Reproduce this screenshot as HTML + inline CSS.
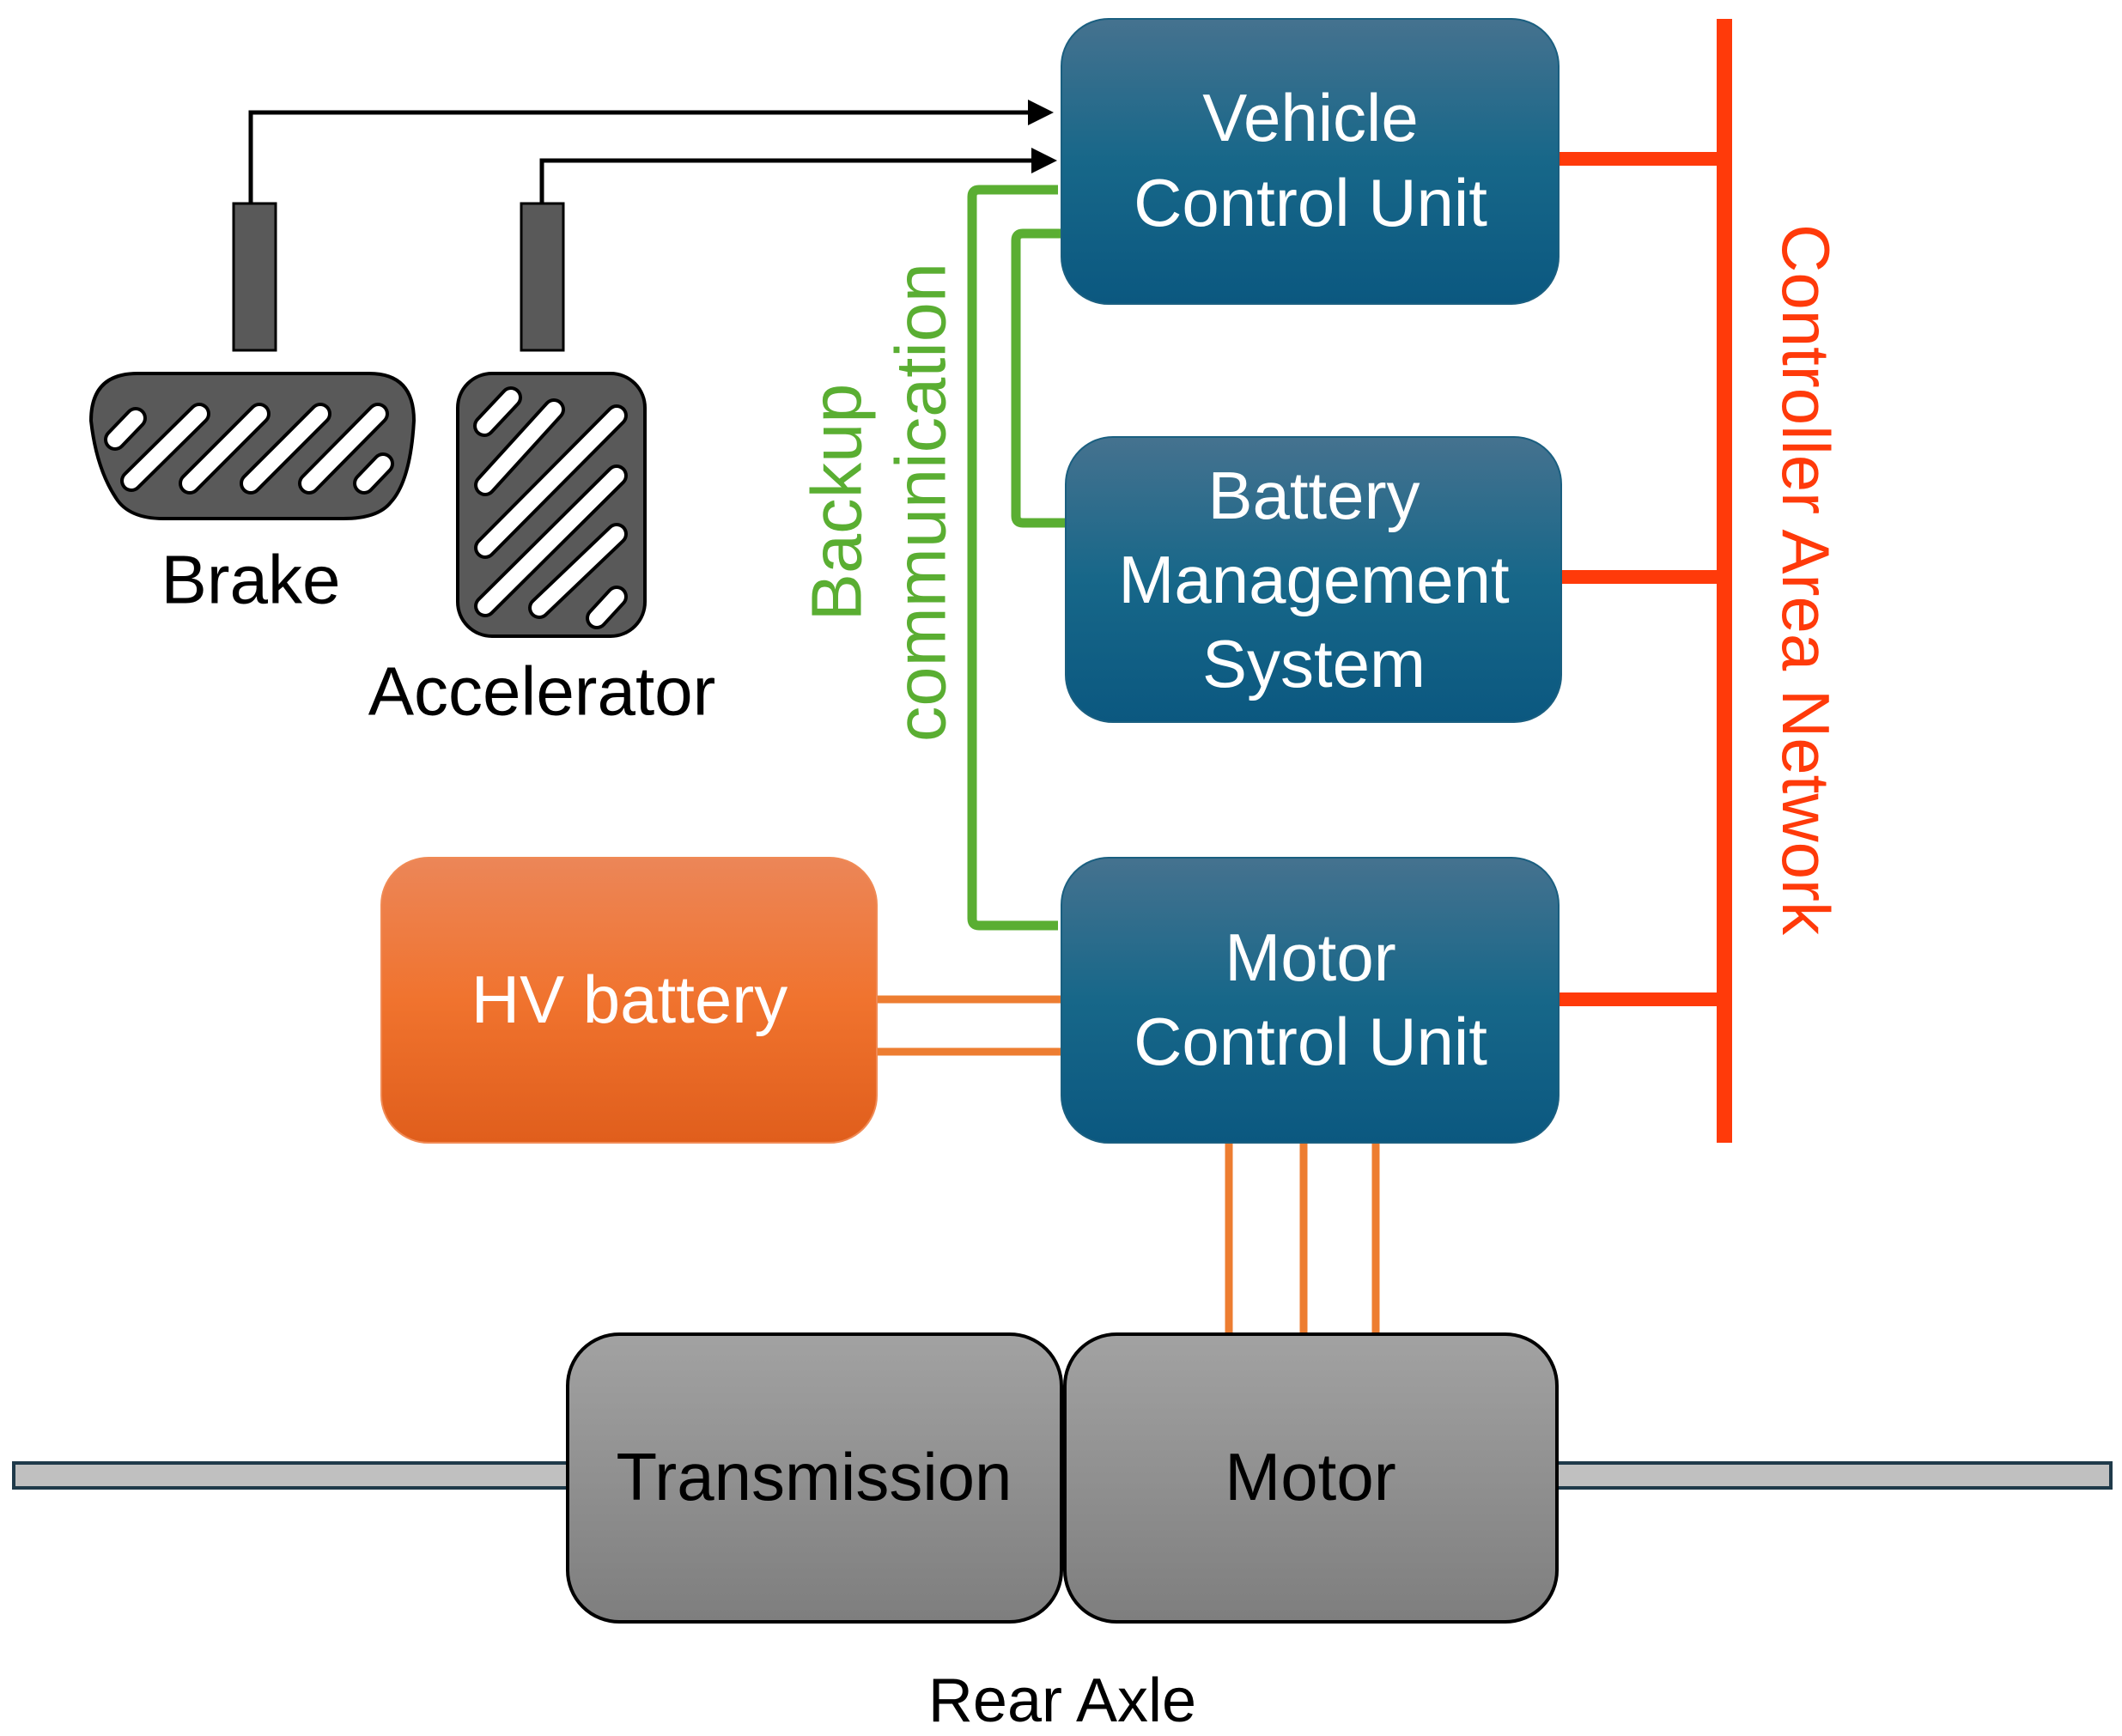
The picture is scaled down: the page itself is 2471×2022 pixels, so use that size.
<!DOCTYPE html>
<html><head><meta charset="utf-8"><style>
html,body{margin:0;padding:0;background:#fff;}
svg{display:block;font-family:"Liberation Sans",sans-serif;}
</style></head><body>
<svg width="2471" height="2022" viewBox="0 0 2471 2022" xmlns="http://www.w3.org/2000/svg">
<defs>
<linearGradient id="blue" x1="0" y1="0" x2="0" y2="1"><stop offset="0" stop-color="#45728f"/><stop offset="0.5" stop-color="#176789"/><stop offset="1" stop-color="#0b5880"/></linearGradient>
<linearGradient id="orange" x1="0" y1="0" x2="0" y2="1"><stop offset="0" stop-color="#ec8658"/><stop offset="0.5" stop-color="#f0732e"/><stop offset="1" stop-color="#e05e1c"/></linearGradient>
<linearGradient id="gray" x1="0" y1="0" x2="0" y2="1"><stop offset="0" stop-color="#a2a2a2"/><stop offset="1" stop-color="#7e7e7e"/></linearGradient>
<marker id="arr" markerWidth="6" markerHeight="6" refX="5" refY="3" orient="auto" markerUnits="strokeWidth"><path d="M0,0 L6,3 L0,6 z" fill="#000"/></marker>
</defs>

<g stroke="#ff3a0a" fill="none">
<line x1="2008" y1="22" x2="2008" y2="1331" stroke-width="18"/>
<line x1="1812" y1="185" x2="2008" y2="185" stroke-width="16"/>
<line x1="1815" y1="672" x2="2008" y2="672" stroke-width="16"/>
<line x1="1812" y1="1164" x2="2008" y2="1164" stroke-width="16"/>
</g>
<text transform="translate(2103,675) rotate(90)" text-anchor="middle" dominant-baseline="central" font-size="78" fill="#ff3a0a">Controller Area Network</text>

<g stroke="#5aae32" stroke-width="11" fill="none">
<path d="M1232,221 L1140,221 Q1132,221 1132,229 L1132,1070 Q1132,1078 1140,1078 L1232,1078"/>
<path d="M1236,272 L1191,272 Q1183,272 1183,280 L1183,601 Q1183,609 1191,609 L1240,609"/>
</g>
<text transform="translate(974,585) rotate(-90)" text-anchor="middle" dominant-baseline="central" font-size="83" fill="#5aae32">Backup</text>
<text transform="translate(1072,585) rotate(-90)" text-anchor="middle" dominant-baseline="central" font-size="83" fill="#5aae32">communication</text>

<g stroke="#000" stroke-width="5" fill="none">
<path d="M292,237 L292,131 L1222,131" marker-end="url(#arr)"/>
<path d="M631,237 L631,187 L1226,187" marker-end="url(#arr)"/>
</g>

<rect x="272" y="237" width="49" height="171" fill="#595959" stroke="#000" stroke-width="3"/>
<rect x="607" y="237" width="49" height="171" fill="#595959" stroke="#000" stroke-width="3"/>
<path d="M160,435 L430,435 Q482,435 482,490 Q478,560 455,585 Q440,604 400,604 L190,604 Q150,604 135,580 Q112,545 106,490 Q106,435 160,435 Z" fill="#595959" stroke="#000" stroke-width="4"/>
<g stroke-linecap="round">
<g stroke="#000" stroke-width="26">
<line x1="134" y1="512" x2="158" y2="487"/><line x1="153" y1="560" x2="232" y2="482"/><line x1="221" y1="563" x2="302" y2="482"/><line x1="292" y1="563" x2="373" y2="482"/><line x1="360" y1="563" x2="440" y2="482"/><line x1="424" y1="563" x2="446" y2="540"/>
</g>
<g stroke="#fff" stroke-width="18">
<line x1="134" y1="512" x2="158" y2="487"/><line x1="153" y1="560" x2="232" y2="482"/><line x1="221" y1="563" x2="302" y2="482"/><line x1="292" y1="563" x2="373" y2="482"/><line x1="360" y1="563" x2="440" y2="482"/><line x1="424" y1="563" x2="446" y2="540"/>
</g></g>
<rect x="533" y="435" width="218" height="306" rx="40" fill="#595959" stroke="#000" stroke-width="4"/>
<g stroke-linecap="round">
<g stroke="#000" stroke-width="26">
<line x1="564" y1="496" x2="595" y2="463"/><line x1="565" y1="565" x2="645" y2="477"/><line x1="565" y1="638" x2="718" y2="484"/><line x1="565" y1="706" x2="718" y2="554"/><line x1="628" y1="708" x2="718" y2="622"/><line x1="695" y1="720" x2="718" y2="695"/>
</g>
<g stroke="#fff" stroke-width="18">
<line x1="564" y1="496" x2="595" y2="463"/><line x1="565" y1="565" x2="645" y2="477"/><line x1="565" y1="638" x2="718" y2="484"/><line x1="565" y1="706" x2="718" y2="554"/><line x1="628" y1="708" x2="718" y2="622"/><line x1="695" y1="720" x2="718" y2="695"/>
</g></g>
<text x="292" y="675" text-anchor="middle" dominant-baseline="central" font-size="80" fill="#000">Brake</text>
<text x="631" y="805" text-anchor="middle" dominant-baseline="central" font-size="80" fill="#000">Accelerator</text>

<g stroke="#ed7d31" stroke-width="9">
<line x1="1021" y1="1164" x2="1238" y2="1164"/>
<line x1="1021" y1="1225" x2="1238" y2="1225"/>
<line x1="1431" y1="1329" x2="1431" y2="1556"/>
<line x1="1518" y1="1329" x2="1518" y2="1556"/>
<line x1="1602" y1="1329" x2="1602" y2="1556"/>
</g>

<rect x="1236" y="22" width="579" height="332" rx="55" fill="url(#blue)" stroke="#1a5f80" stroke-width="2"/>
<rect x="1241" y="509" width="577" height="332" rx="55" fill="url(#blue)" stroke="#1a5f80" stroke-width="2"/>
<rect x="1236" y="999" width="579" height="332" rx="55" fill="url(#blue)" stroke="#1a5f80" stroke-width="2"/>
<rect x="444" y="999" width="577" height="332" rx="55" fill="url(#orange)" stroke="#f08a55" stroke-width="2"/>
<g fill="#fff" font-size="78" text-anchor="middle" dominant-baseline="central">
<text x="1526" y="137">Vehicle</text><text x="1526" y="236">Control Unit</text>
<text x="1530" y="577">Battery</text><text x="1530" y="675">Management</text><text x="1530" y="773">System</text>
<text x="1526" y="1115">Motor</text><text x="1526" y="1213">Control Unit</text>
<text x="733" y="1164">HV battery</text>
</g>

<rect x="16" y="1704" width="645" height="29" fill="#c0c0c0" stroke="#1f3a4a" stroke-width="4"/>
<rect x="1813" y="1704" width="645" height="29" fill="#c0c0c0" stroke="#1f3a4a" stroke-width="4"/>
<rect x="661" y="1554" width="575" height="335" rx="60" fill="url(#gray)" stroke="#000" stroke-width="4"/>
<rect x="1240" y="1554" width="573" height="335" rx="60" fill="url(#gray)" stroke="#000" stroke-width="4"/>
<g fill="#000" font-size="78" text-anchor="middle" dominant-baseline="central">
<text x="948" y="1720">Transmission</text>
<text x="1526" y="1720">Motor</text>
<text x="1237" y="1981" font-size="72">Rear Axle</text>
</g>
</svg>
</body></html>
